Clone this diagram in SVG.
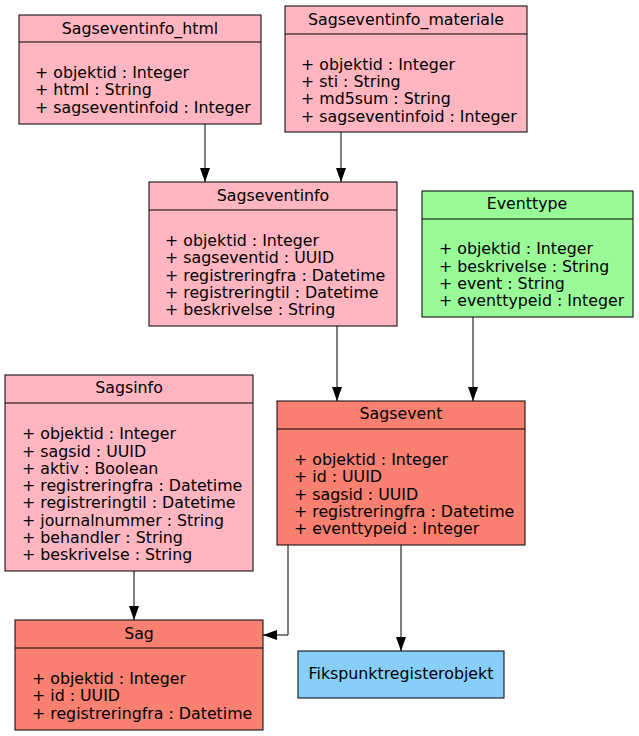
<svg xmlns="http://www.w3.org/2000/svg" width="639" height="736" viewBox="0 0 639 736">
<defs>
<style>
text{font-family:"DejaVu Sans",sans-serif;font-size:15.8px;fill:#000}
.t{text-anchor:middle}
.box{stroke:#000;stroke-width:1}
.pink{fill:#ffb6c1}
.salmon{fill:#fa8072}
.green{fill:#98fb98}
.blue{fill:#87cefa}
.edge{fill:none;stroke:#000;stroke-width:1}
</style>
<marker id="ah" viewBox="0 0 14 10" refX="14" refY="5" markerWidth="14" markerHeight="10" markerUnits="userSpaceOnUse" orient="auto">
<path d="M0,0 L14,5 L0,10 Z" fill="#000"/>
</marker>
</defs>
<rect width="639" height="736" fill="#fff"/>
<g id="connectors">
<path class="edge" d="M205,124 V182" marker-end="url(#ah)"/>
<path class="edge" d="M341,132 V182" marker-end="url(#ah)"/>
<path class="edge" d="M337,326 V401" marker-end="url(#ah)"/>
<path class="edge" d="M473,317 V401" marker-end="url(#ah)"/>
<path class="edge" d="M134,571 V620" marker-end="url(#ah)"/>
<path class="edge" d="M288,545 V635 H263" marker-end="url(#ah)"/>
<path class="edge" d="M401,545 V651" marker-end="url(#ah)"/>
</g>
<g id="Sagseventinfo_html">
<rect class="box pink" x="19" y="15" width="242" height="109"/>
<line class="box" x1="19" y1="42" x2="261" y2="42"/>
<text class="t" x="140" y="34">Sagseventinfo_html</text>
<text x="35" y="78">+ objektid : Integer</text>
<text x="35" y="95">+ html : String</text>
<text x="35" y="113">+ sagseventinfoid : Integer</text>
</g>
<g id="Sagseventinfo_materiale">
<rect class="box pink" x="285" y="6" width="242" height="126"/>
<line class="box" x1="285" y1="34" x2="527" y2="34"/>
<text class="t" x="406" y="25">Sagseventinfo_materiale</text>
<text x="301" y="70">+ objektid : Integer</text>
<text x="301" y="87">+ sti : String</text>
<text x="301" y="104">+ md5sum : String</text>
<text x="301" y="122">+ sagseventinfoid : Integer</text>
</g>
<g id="Sagseventinfo">
<rect class="box pink" x="149" y="182" width="248" height="144"/>
<line class="box" x1="149" y1="210" x2="397" y2="210"/>
<text class="t" x="273" y="201">Sagseventinfo</text>
<text x="165" y="246">+ objektid : Integer</text>
<text x="165" y="263">+ sagseventid : UUID</text>
<text x="165" y="281">+ registreringfra : Datetime</text>
<text x="165" y="298">+ registreringtil : Datetime</text>
<text x="165" y="315">+ beskrivelse : String</text>
</g>
<g id="Eventtype">
<rect class="box green" x="422" y="191" width="211" height="126"/>
<line class="box" x1="422" y1="219" x2="633" y2="219"/>
<text class="t" x="527" y="209">Eventtype</text>
<text x="439" y="254">+ objektid : Integer</text>
<text x="439" y="272">+ beskrivelse : String</text>
<text x="439" y="289">+ event : String</text>
<text x="439" y="306">+ eventtypeid : Integer</text>
</g>
<g id="Sagsinfo">
<rect class="box pink" x="5" y="375" width="248" height="196"/>
<line class="box" x1="5" y1="403" x2="253" y2="403"/>
<text class="t" x="129" y="393">Sagsinfo</text>
<text x="22" y="439">+ objektid : Integer</text>
<text x="22" y="457">+ sagsid : UUID</text>
<text x="22" y="474">+ aktiv : Boolean</text>
<text x="22" y="491">+ registreringfra : Datetime</text>
<text x="22" y="508">+ registreringtil : Datetime</text>
<text x="22" y="526">+ journalnummer : String</text>
<text x="22" y="543">+ behandler : String</text>
<text x="22" y="560">+ beskrivelse : String</text>
</g>
<g id="Sagsevent">
<rect class="box salmon" x="277" y="401" width="248" height="144"/>
<line class="box" x1="277" y1="429" x2="525" y2="429"/>
<text class="t" x="401" y="419">Sagsevent</text>
<text x="294" y="465">+ objektid : Integer</text>
<text x="294" y="482">+ id : UUID</text>
<text x="294" y="500">+ sagsid : UUID</text>
<text x="294" y="517">+ registreringfra : Datetime</text>
<text x="294" y="534">+ eventtypeid : Integer</text>
</g>
<g id="Sag">
<rect class="box salmon" x="15" y="620" width="248" height="110"/>
<line class="box" x1="15" y1="648" x2="263" y2="648"/>
<text class="t" x="139" y="639">Sag</text>
<text x="32" y="684">+ objektid : Integer</text>
<text x="32" y="701">+ id : UUID</text>
<text x="32" y="719">+ registreringfra : Datetime</text>
</g>
<g id="Fikspunktregisterobjekt">
<rect class="box blue" x="298" y="651" width="206" height="47"/>
<text class="t" x="401" y="679">Fikspunktregisterobjekt</text>
</g>
</svg>
